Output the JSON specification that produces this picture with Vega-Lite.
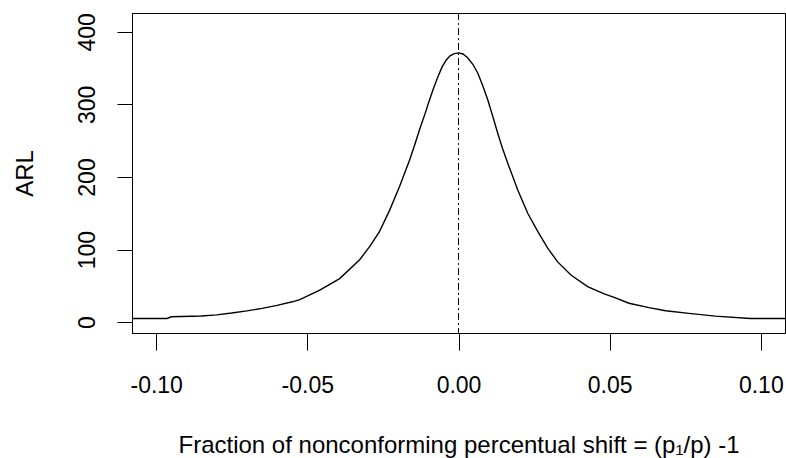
{
  "$schema": "https://vega.github.io/schema/vega-lite/v6.json",
  "width": 653,
  "height": 320,
  "autosize": {"type": "none"},
  "padding": {"left": 132, "top": 13, "right": 1, "bottom": 125},
  "background": "white",
  "config": {
    "view": {"stroke": "black", "strokeWidth": 1},
    "font": "Liberation Sans",
    "axis": {
      "grid": false,
      "domainColor": "black",
      "tickColor": "black",
      "labelColor": "black",
      "titleColor": "black",
      "labelFont": "Liberation Sans",
      "titleFont": "Liberation Sans",
      "labelFontSize": 23,
      "titleFontSize": 24,
      "titleFontWeight": "normal",
      "tickWidth": 1,
      "domainWidth": 1
    }
  },
  "datasets": {
    "arl": [
      {"shift": -0.108, "ARL": 5},
      {"shift": -0.0964, "ARL": 5},
      {"shift": -0.095, "ARL": 7.4},
      {"shift": -0.085, "ARL": 8.5},
      {"shift": -0.08, "ARL": 10},
      {"shift": -0.075, "ARL": 12.5},
      {"shift": -0.07, "ARL": 15.5},
      {"shift": -0.065, "ARL": 19},
      {"shift": -0.06, "ARL": 23},
      {"shift": -0.055, "ARL": 28},
      {"shift": -0.0525, "ARL": 31},
      {"shift": -0.0459, "ARL": 44},
      {"shift": -0.0393, "ARL": 60},
      {"shift": -0.0327, "ARL": 86},
      {"shift": -0.0294, "ARL": 104},
      {"shift": -0.0261, "ARL": 125},
      {"shift": -0.0228, "ARL": 154},
      {"shift": -0.0195, "ARL": 187},
      {"shift": -0.0162, "ARL": 223},
      {"shift": -0.0145, "ARL": 244},
      {"shift": -0.0129, "ARL": 265},
      {"shift": -0.011, "ARL": 288},
      {"shift": -0.0096, "ARL": 306},
      {"shift": -0.0082, "ARL": 323},
      {"shift": -0.0068, "ARL": 338},
      {"shift": -0.0055, "ARL": 351},
      {"shift": -0.0041, "ARL": 361},
      {"shift": -0.0028, "ARL": 367},
      {"shift": -0.0014, "ARL": 370},
      {"shift": 0.0, "ARL": 371},
      {"shift": 0.0015, "ARL": 369.5},
      {"shift": 0.0031, "ARL": 364},
      {"shift": 0.0048, "ARL": 355},
      {"shift": 0.0064, "ARL": 343},
      {"shift": 0.008, "ARL": 326},
      {"shift": 0.0097, "ARL": 306},
      {"shift": 0.0113, "ARL": 284},
      {"shift": 0.013, "ARL": 260},
      {"shift": 0.0146, "ARL": 239},
      {"shift": 0.0163, "ARL": 219},
      {"shift": 0.0196, "ARL": 182},
      {"shift": 0.0229, "ARL": 150},
      {"shift": 0.0262, "ARL": 125},
      {"shift": 0.0295, "ARL": 102},
      {"shift": 0.0328, "ARL": 83},
      {"shift": 0.0372, "ARL": 65},
      {"shift": 0.0427, "ARL": 49},
      {"shift": 0.0482, "ARL": 39},
      {"shift": 0.0515, "ARL": 34},
      {"shift": 0.0564, "ARL": 26},
      {"shift": 0.063, "ARL": 20},
      {"shift": 0.0685, "ARL": 15.6},
      {"shift": 0.0762, "ARL": 12},
      {"shift": 0.085, "ARL": 8.3},
      {"shift": 0.0966, "ARL": 5},
      {"shift": 0.108, "ARL": 5}
    ],
    "ref": [{"shift": 0}]
  },
  "layer": [
    {
      "data": {"name": "arl"},
      "mark": {"type": "line", "color": "black", "strokeWidth": 1.4, "clip": true},
      "encoding": {
        "x": {
          "field": "shift",
          "type": "quantitative",
          "scale": {"domain": [-0.108, 0.108], "nice": false, "zero": false},
          "axis": {
            "values": [-0.1, -0.05, 0, 0.05, 0.1],
            "labelExpr": "replace(format(datum.value, '.2f'), '\u2212', '-')",
            "tickSize": 17,
            "labelPadding": 24,
            "labelBaseline": "top",
            "labelFlush": false,
            "title": "Fraction of nonconforming percentual shift = (p\u2081/p) -1",
            "titleX": 326.5,
            "titleY": 119,
            "titleAlign": "center",
            "titleBaseline": "alphabetic"
          }
        },
        "y": {
          "field": "ARL",
          "type": "quantitative",
          "scale": {"domain": [-15, 426], "nice": false, "zero": false},
          "axis": {
            "values": [0, 100, 200, 300, 400],
            "tickSize": 15,
            "labelAngle": 270,
            "labelAlign": "center",
            "labelBaseline": "alphabetic",
            "labelPadding": 23,
            "labelFlush": false,
            "title": "ARL",
            "titleAngle": 270,
            "titleX": -100,
            "titleY": 160,
            "titleAlign": "center",
            "titleBaseline": "alphabetic"
          }
        }
      }
    },
    {
      "data": {"name": "ref"},
      "mark": {"type": "rule", "color": "black", "strokeWidth": 1, "strokeDash": [7, 3, 2, 3]},
      "encoding": {
        "x": {"field": "shift", "type": "quantitative"}
      }
    }
  ]
}
